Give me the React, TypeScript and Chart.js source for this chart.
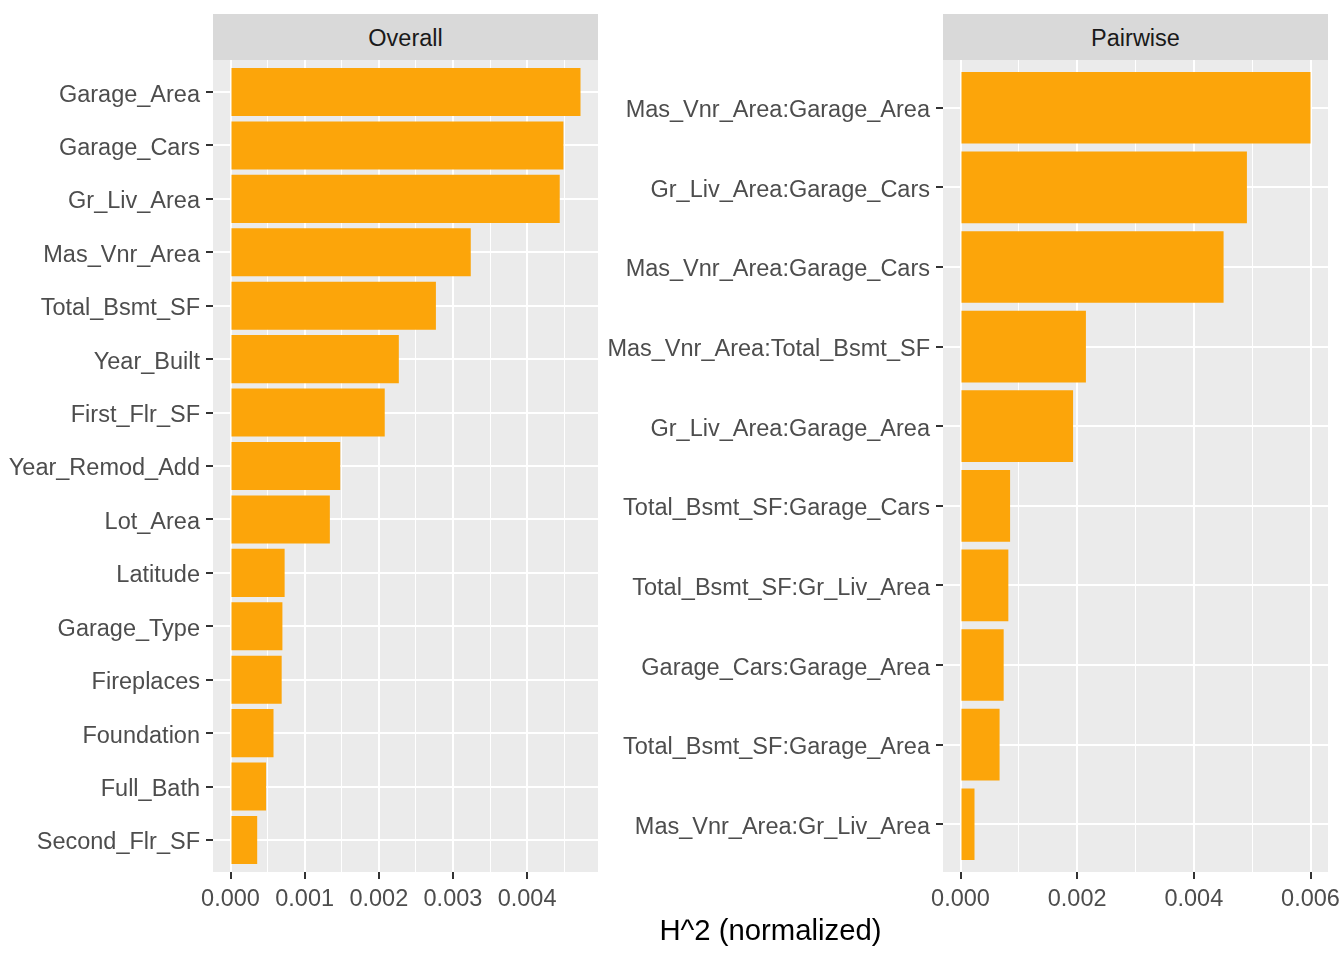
import { useEffect, useRef } from "react";
import { Chart, registerables } from "chart.js";

Chart.register(...registerables);

// data, top to bottom
const overallLabels = [
  "Garage_Area",
  "Garage_Cars",
  "Gr_Liv_Area",
  "Mas_Vnr_Area",
  "Total_Bsmt_SF",
  "Year_Built",
  "First_Flr_SF",
  "Year_Remod_Add",
  "Lot_Area",
  "Latitude",
  "Garage_Type",
  "Fireplaces",
  "Foundation",
  "Full_Bath",
  "Second_Flr_SF",
];
const overallValues = [
  0.00472, 0.00449, 0.00444, 0.00324, 0.00277, 0.00227, 0.00208, 0.00148,
  0.00134, 0.00073, 0.0007, 0.00069, 0.00058, 0.00048, 0.00036,
];

const pairwiseLabels = [
  "Mas_Vnr_Area:Garage_Area",
  "Gr_Liv_Area:Garage_Cars",
  "Mas_Vnr_Area:Garage_Cars",
  "Mas_Vnr_Area:Total_Bsmt_SF",
  "Gr_Liv_Area:Garage_Area",
  "Total_Bsmt_SF:Garage_Cars",
  "Total_Bsmt_SF:Gr_Liv_Area",
  "Garage_Cars:Garage_Area",
  "Total_Bsmt_SF:Garage_Area",
  "Mas_Vnr_Area:Gr_Liv_Area",
];
const pairwiseValues = [
  0.006, 0.00491, 0.00451, 0.00215, 0.00193, 0.00085, 0.00082, 0.00074,
  0.00067, 0.00024,
];

const FILL = "#FCA50A";
const FONT = "'Liberation Sans', Arial, sans-serif";

// panel grey behind the plot area, like ggplot's theme_gray
const panelBg = {
  id: "panelBg",
  beforeDraw(chart: Chart) {
    const { ctx, chartArea } = chart;
    ctx.save();
    ctx.fillStyle = "#EBEBEB";
    ctx.fillRect(
      chartArea.left,
      chartArea.top,
      chartArea.right - chartArea.left,
      chartArea.bottom - chartArea.top
    );
    ctx.restore();
  },
};

type PanelProps = {
  labels: string[];
  values: number[];
  minorStep: number;
  majorStep: number;
  axisWidth: number;
  padRight: number;
};

const Panel = ({ labels, values, minorStep, majorStep, axisWidth, padRight }: PanelProps) => {
  const canvasRef = useRef<HTMLCanvasElement>(null);

  useEffect(() => {
    if (!canvasRef.current) return;
    const top = Math.max(...values);
    const isMajor = (v: number) => {
      const r = v / majorStep;
      return Math.abs(r - Math.round(r)) < 1e-6;
    };

    const chart = new Chart(canvasRef.current, {
      type: "bar",
      data: {
        datasets: [
          {
            data: values.map((v, i) => ({ x: v, y: i })),
            backgroundColor: FILL,
            borderWidth: 0,
            categoryPercentage: 0.9,
            barPercentage: 1,
          },
        ],
      },
      options: {
        indexAxis: "y",
        animation: false,
        responsive: false,
        layout: { padding: { top: 0, right: padRight, bottom: 0, left: 0 } },
        plugins: { legend: { display: false }, tooltip: { enabled: false } },
        scales: {
          x: {
            type: "linear",
            min: -0.05 * top,
            max: 1.05 * top,
            border: { display: false },
            grid: {
              color: "#FFFFFF",
              lineWidth: (c: any) => (c.tick && isMajor(c.tick.value) ? 2 : 1),
              tickColor: (c: any) =>
                c.tick && isMajor(c.tick.value) ? "#333333" : "rgba(0,0,0,0)",
              tickLength: 7,
              tickWidth: 2,
            },
            ticks: {
              stepSize: minorStep,
              includeBounds: false,
              autoSkip: false,
              maxRotation: 0,
              padding: 6,
              color: "#4D4D4D",
              font: { family: FONT, size: 23.5 },
              callback: (v: any) => (isMajor(Number(v)) ? Number(v).toFixed(3) : ""),
            },
            afterFit: (s: any) => {
              s.height = 48;
              s.paddingLeft = 0;
              s.paddingRight = 0;
            },
          },
          y: {
            type: "linear",
            reverse: true,
            offset: false,
            min: -0.6,
            max: labels.length - 1 + 0.6,
            border: { display: false },
            grid: {
              offset: false,
              color: "#FFFFFF",
              lineWidth: 2,
              tickColor: "#333333",
              tickLength: 7,
              tickWidth: 2,
            },
            ticks: {
              stepSize: 1,
              includeBounds: false,
              autoSkip: false,
              padding: 6,
              labelOffset: 3,
              color: "#4D4D4D",
              font: { family: FONT, size: 23.5 },
              callback: (v: any) => labels[Number(v)] ?? "",
            },
            afterFit: (s: any) => {
              s.width = axisWidth;
              s.paddingTop = 0;
              s.paddingBottom = 0;
            },
          },
        },
      },
      plugins: [panelBg],
    });

    return () => {
      chart.destroy();
    };
  }, [labels, values, minorStep, majorStep, axisWidth, padRight]);

  return <canvas ref={canvasRef} width={axisWidth + 385 + padRight} height={860}></canvas>;
};

const stripStyle = (left: number): React.CSSProperties => ({
  position: "absolute",
  left,
  top: 14,
  width: 385,
  height: 46,
  paddingTop: 3,
  boxSizing: "border-box",
  background: "#D9D9D9",
  color: "#1A1A1A",
  fontFamily: FONT,
  fontSize: 23.5,
  display: "flex",
  alignItems: "center",
  justifyContent: "center",
});

export default function App() {
  return (
    <div
      style={{
        position: "fixed",
        left: 0,
        top: 0,
        width: 1344,
        height: 960,
        background: "#FFFFFF",
        overflow: "hidden",
      }}
    >
      <div style={stripStyle(213)}>Overall</div>
      <div style={stripStyle(943)}>Pairwise</div>
      <div style={{ position: "absolute", left: 0, top: 60 }}>
        <Panel
          labels={overallLabels}
          values={overallValues}
          minorStep={0.0005}
          majorStep={0.001}
          axisWidth={213}
          padRight={2}
        />
      </div>
      <div style={{ position: "absolute", left: 600, top: 60 }}>
        <Panel
          labels={pairwiseLabels}
          values={pairwiseValues}
          minorStep={0.001}
          majorStep={0.002}
          axisWidth={343}
          padRight={16}
        />
      </div>
      <div
        style={{
          position: "absolute",
          left: 213,
          width: 1115,
          top: 912,
          textAlign: "center",
          fontFamily: FONT,
          fontSize: 29.3,
          color: "#000000",
          lineHeight: "36px",
        }}
      >
        H^2 (normalized)
      </div>
    </div>
  );
}
